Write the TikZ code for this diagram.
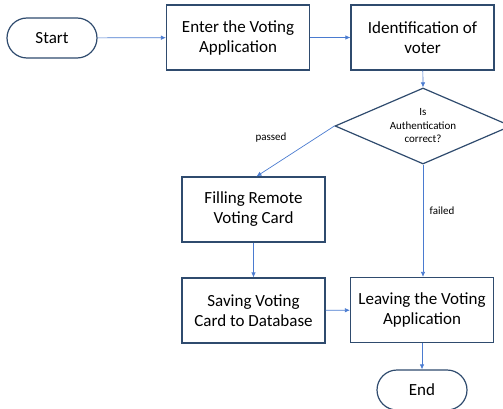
\documentclass[tikz,border=0pt]{standalone}
\usepackage{fontspec}
\setmainfont{Carlito}
\usetikzlibrary{shapes.geometric,arrows.meta}
\definecolor{boxline}{HTML}{2F4B6E}
\definecolor{flow}{HTML}{4A7BD0}

\begin{document}
\begin{tikzpicture}[x=1pt,y=-1pt,
  stepbox/.style={draw=boxline,line width=1.2pt,fill=white,minimum width=143pt,
    minimum height=65pt,align=center,font=\fontsize{17}{20}\selectfont,inner sep=0pt},
  term/.style={draw=boxline,line width=1.2pt,fill=white,rounded corners=20pt,
    minimum width=90pt,minimum height=40pt,font=\fontsize{17}{20}\selectfont,inner sep=0pt},
  check/.style={diamond,draw=boxline,line width=1.2pt,fill=white,aspect=2.3,inner sep=0pt,
    minimum width=176pt,minimum height=76pt,align=center,font=\fontsize{11}{13.5}\selectfont},
  flowline/.style={draw=flow,line width=0.7pt,-{Latex[length=5pt,width=4.5pt]}},
  note/.style={font=\fontsize{11}{13}\selectfont}]
  \useasboundingbox (0,0) rectangle (503,409);
  \clip (0,0) rectangle (503,409);
  % top row
  \node[term] (start) at (52,38) {Start};
  \node[stepbox] (enter) at (238,37.5) {Enter the Voting\\Application};
  \node[stepbox] (ident) at (422.5,37.5) {Identification of\\voter};
  % decision
  \node[check] (auth) at (423,126) {Is\\Authentication\\correct?};
  % lower boxes
  \node[stepbox] (fill) at (253.5,209.5) {Filling Remote\\Voting Card};
  \node[stepbox] (save) at (253.5,310.5) {Saving Voting\\Card to Database};
  \node[stepbox] (leave) at (422,310) {Leaving the Voting\\Application};
  \node[term] (end) at (422,390) {End};
  % connectors
  \draw[flowline] (start) -- (enter);
  \draw[flowline] (enter) -- (ident);
  \draw[flowline] (ident) -- (auth.north);
  \draw[flowline] (auth.west) -- ([xshift=3pt]fill.north);
  \draw[flowline] (auth.south) -- (auth.south |- leave.north);
  \draw[flowline] (fill) -- (save);
  \draw[flowline] (save) -- (leave);
  \draw[flowline] (leave) -- (end);
  \node[note] (passlbl) at (271,138) {passed};
  \node[note] (faillbl) at (442,211) {failed};
\end{tikzpicture}
\end{document}
